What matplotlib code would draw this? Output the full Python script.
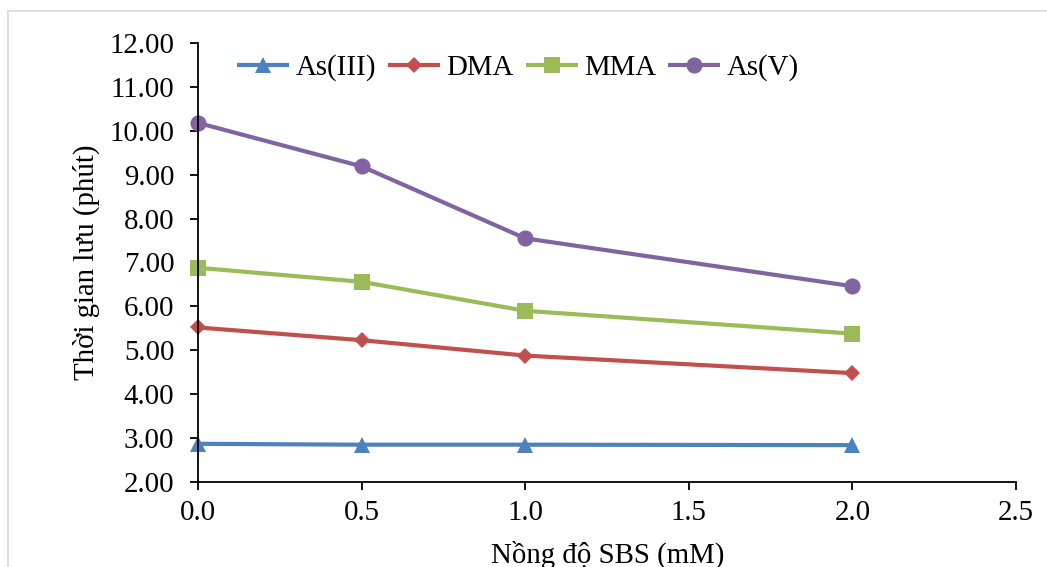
import matplotlib
matplotlib.use("Agg")
import matplotlib.pyplot as plt
from matplotlib.lines import Line2D

# Retention time of arsenic species vs. SBS concentration
sbs_mM = [0.0, 0.5, 1.0, 2.0]
as_iii = [2.87, 2.85, 2.85, 2.84]
dma = [5.52, 5.23, 4.88, 4.48]
mma = [6.88, 6.56, 5.90, 5.38]
as_v = [10.18, 9.19, 7.55, 6.46]

series_names = ["As(III)", "DMA", "MMA", "As(V)"]
x_ticks = [0.0, 0.5, 1.0, 1.5, 2.0, 2.5]
y_ticks = [2, 3, 4, 5, 6, 7, 8, 9, 10, 11, 12]

plt.rcParams["font.family"] = ["Liberation Serif", "DejaVu Serif"]
FS = 20.8

W, H = 1047, 567
fig = plt.figure(figsize=(W / 100, H / 100), dpi=100)
ax = fig.add_axes([198 / W, 1 - 482 / H, (1016 - 198) / W, (482 - 43) / H])

styles = [
    dict(color="#4F81BD", marker="^", ms=11.8),
    dict(color="#C0504D", marker="D", ms=8.5),
    dict(color="#9BBB59", marker="s", ms=11.2),
    dict(color="#8064A2", marker="o", ms=11.6),
]
for name, vals, st in zip(series_names, [as_iii, dma, mma, as_v], styles):
    ax.plot(sbs_mM, vals, lw=3.0, label=name, color=st["color"],
            marker=st["marker"], markersize=st["ms"],
            markeredgewidth=0, solid_capstyle="butt", clip_on=False)

ax.set_xlim(0, 2.5)
ax.set_ylim(2, 12)
ax.set_xticks(x_ticks)
ax.set_xticklabels([f"{v:.1f}" for v in x_ticks])
ax.set_yticks(y_ticks)
ax.set_yticklabels([f"{v:.2f}" for v in y_ticks])

for side in ("top", "right"):
    ax.spines[side].set_visible(False)
for side in ("left", "bottom"):
    ax.spines[side].set_linewidth(1.3)
    ax.spines[side].set_color("black")

ax.tick_params(axis="y", direction="out", length=6, width=1.3, pad=11, labelsize=FS)
ax.tick_params(axis="x", direction="out", length=6, width=1.3, pad=7, labelsize=FS)

fig.text(86 / W, 1 - 262.5 / H, "Thời gian lưu (phút)", rotation=90,
         ha="center", va="center", fontsize=FS)
fig.text(608 / W, 1 - 563 / H, "Nồng độ SBS (mM)", ha="center",
         va="baseline", fontsize=FS)

ax.legend(loc="center left", bbox_to_anchor=(237 / W, 1 - 68 / H),
          bbox_transform=fig.transFigure, ncol=4, frameon=False,
          fontsize=FS, handlelength=1.8, handletextpad=0.22,
          columnspacing=0.42, borderpad=0, borderaxespad=0)

# light chart-area border (left and top edges visible)
border_color = "#D9D9D9"
fig.add_artist(Line2D([8 / W, 8 / W], [0, 1 - 11 / H], color=border_color,
                      lw=1.2, transform=fig.transFigure))
fig.add_artist(Line2D([8 / W, 1], [1 - 11 / H, 1 - 11 / H], color=border_color,
                      lw=1.2, transform=fig.transFigure))

fig.savefig("out.png", dpi=100)
